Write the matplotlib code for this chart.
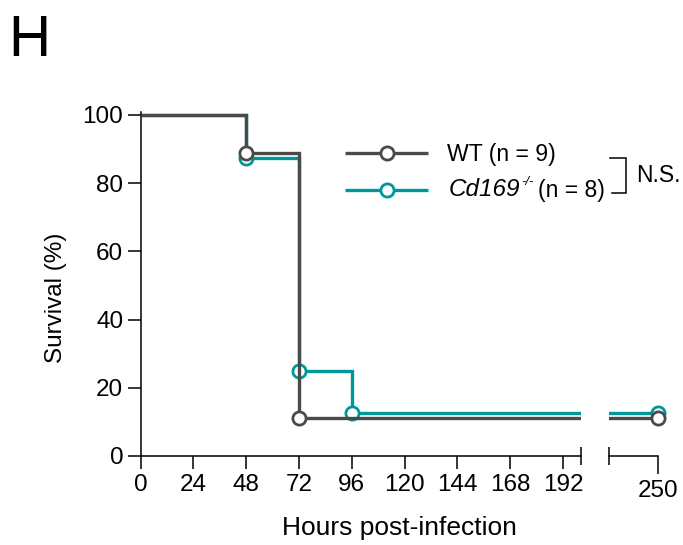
import matplotlib
matplotlib.use('Agg')
import matplotlib.pyplot as plt
from matplotlib.lines import Line2D

plt.rcParams['font.family'] = ['Liberation Sans', 'DejaVu Sans']

# ---------------- data ----------------
hours_wt = [0, 48, 72, 250]
surv_wt = [100, 88.9, 11.1, 11.1]
hours_cd = [0, 48, 72, 96, 250]
surv_cd = [100, 87.5, 25.0, 12.5, 12.5]
x_ticks_main = [0, 24, 48, 72, 96, 120, 144, 168, 192]
x_ticks_break = [250]
y_ticks = [0, 20, 40, 60, 80, 100]
label_wt = "WT (n = 9)"
label_cd_gene = "Cd169"
label_cd_sup = "-/-"
label_cd_n = "(n = 8)"

GREY = '#4a4a4a'
TEAL = '#00979a'

W, H = 683, 545
fig = plt.figure(figsize=(W / 100, H / 100), dpi=100)

def fx(px):
    return px / W

def fy(py):
    return 1 - py / H

y0_px, y100_px = 456.0, 115.0
ppu = (y0_px - y100_px) / 100.0
ytop = 101
top_px = y0_px - ytop * ppu
ax1 = fig.add_axes([fx(140.7), fy(y0_px), (580.5 - 140.7) / W, (y0_px - top_px) / H])
ax2 = fig.add_axes([fx(609), fy(y0_px), (658 - 609) / W, (y0_px - top_px) / H])

series = [
    (hours_cd, surv_cd, TEAL, 2),
    (hours_wt, surv_wt, GREY, 4),
]

xlims = [(0, 200), (228, 250)]
for ax, (xa, xb) in zip([ax1, ax2], xlims):
    ax.set_xlim(xa, xb)
    ax.set_ylim(0, ytop)
    for h, s, c, z in series:
        ax.plot(h, s, drawstyle='steps-post', color=c, lw=2.4, zorder=z,
                solid_joinstyle='miter', solid_capstyle='butt')
        mh = [t for t in h[1:] if xa <= t <= xb]
        ms_ = [v for t, v in zip(h[1:], s[1:]) if xa <= t <= xb]
        ax.plot(mh, ms_, 'o', ms=9.5, mfc='white', mec=c, mew=2.0,
                zorder=z + 1, clip_on=False)
    for sp in ['top', 'right']:
        ax.spines[sp].set_visible(False)
    ax.spines['bottom'].set_linewidth(1.1)
    ax.spines['left'].set_linewidth(1.1)
    ax.tick_params(axis='both', which='major', width=1.1, labelsize=17.5,
                   colors='black')

ax1.set_xticks(x_ticks_main)
ax1.set_xticklabels([str(t) for t in x_ticks_main])
ax1.set_xticks([200], minor=True)
ax1.tick_params(axis='x', which='major', length=9.2, pad=4)
ax1.tick_params(axis='x', which='minor', direction='inout', length=13, width=1.1)
ax1.set_yticks(y_ticks)
ax1.set_yticklabels([str(t) for t in y_ticks])
ax1.tick_params(axis='y', which='major', length=9.5, pad=3)
ax1.spines['left'].set_bounds(0, 101)

ax2.spines['left'].set_visible(False)
ax2.set_yticks([])
ax2.set_xticks(x_ticks_break)
ax2.set_xticklabels([str(t) for t in x_ticks_break])
ax2.set_xticks([228], minor=True)
ax2.tick_params(axis='x', which='major', length=13, pad=4)
ax2.tick_params(axis='x', which='minor', direction='inout', length=13, width=1.1)

# axis labels
fig.text(fx(399), fy(535), "Hours post-infection", ha='center', va='baseline',
         fontsize=19)
fig.text(fx(62), fy(363), "Survival (%)", ha='left', va='baseline',
         rotation=90, rotation_mode='anchor', fontsize=17.5)

# panel letter
fig.text(fx(8.5), fy(56), "H", ha='left', va='baseline', fontsize=42)

# legend
for yy, c in [(153, GREY), (190, TEAL)]:
    fig.add_artist(Line2D([fx(345), fx(428)], [fy(yy), fy(yy)], color=c, lw=2.4,
                          transform=fig.transFigure, solid_capstyle='butt'))
    fig.add_artist(Line2D([fx(387)], [fy(yy)], marker='o', ms=9.5, mfc='white',
                          mec=c, mew=2.0, transform=fig.transFigure))
fig.text(fx(447), fy(160.5), label_wt, ha='left', va='baseline', fontsize=16.6)

renderer = fig.canvas.get_renderer()
t_gene = fig.text(fx(449), fy(196.5), label_cd_gene, ha='left', va='baseline',
                  fontsize=17.5, style='italic')
bb = t_gene.get_window_extent(renderer)
x_sup = bb.x1 + 0.5
t_sup = fig.text(x_sup / W, fy(185.5), label_cd_sup, ha='left', va='baseline',
                 fontsize=9.5, style='italic')
bb2 = t_sup.get_window_extent(renderer)
x_n = bb2.x1 + 4.5
fig.text(x_n / W, fy(196.5), label_cd_n, ha='left', va='baseline', fontsize=16.6)

# significance bracket
fig.add_artist(Line2D([fx(610), fx(626), fx(626), fx(612)],
                      [fy(158), fy(158), fy(193), fy(193)], color='black', lw=1.1,
                      transform=fig.transFigure, solid_joinstyle='miter'))
fig.text(fx(636), fy(182), "N.S.", ha='left', va='baseline', fontsize=16.5)

fig.savefig('out.png', dpi=100)
